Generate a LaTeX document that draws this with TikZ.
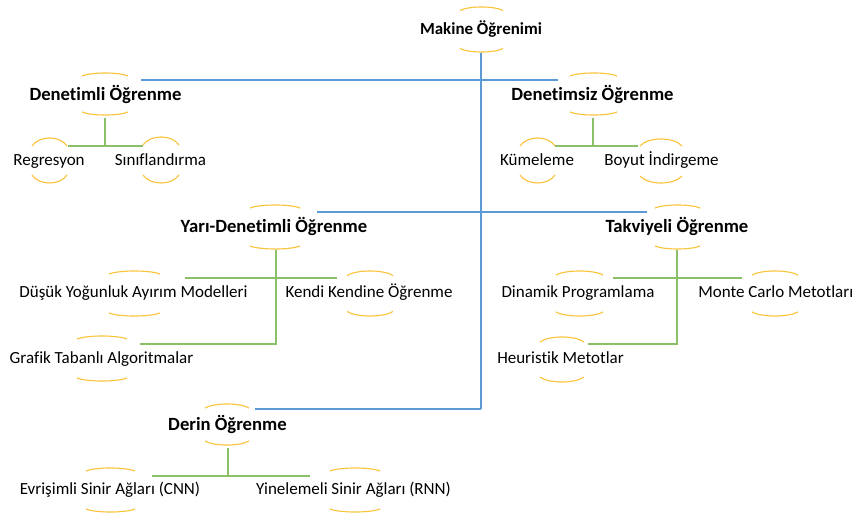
\documentclass[tikz,border=0pt]{standalone}
\usepackage{fontspec}
\setmainfont{Carlito}[Ligatures=NoCommon]
\definecolor{bluel}{RGB}{91,155,213}
\definecolor{greenl}{RGB}{140,192,104}
\definecolor{yell}{RGB}{250,196,60}
\newcommand\hoparcs[5]{%
  \draw[arcline] (#1,{#3+#5}) .. controls ({#1+0.2*(#2-#1)},{#3-#5/3}) and ({#2-0.2*(#2-#1)},{#3-#5/3}) .. (#2,{#3+#5});
  \draw[arcline] (#1,{#4-#5}) .. controls ({#1+0.2*(#2-#1)},{#4+#5/3}) and ({#2-0.2*(#2-#1)},{#4+#5/3}) .. (#2,{#4-#5});
}
\begin{document}
\begin{tikzpicture}[x=0.75pt,y=-0.75pt,
  rootn/.style={font=\fontsize{12.7}{14}\selectfont\bfseries, anchor=mid, inner sep=0pt, yshift=-1.9pt},
  main/.style={font=\fontsize{14}{16}\selectfont\bfseries, anchor=mid, inner sep=0pt, yshift=-1.9pt},
  sub/.style={font=\fontsize{12.75}{14}\selectfont, anchor=mid, inner sep=0pt, yshift=-1.9pt},
  blueline/.style={draw=bluel, line width=0.8pt},
  greenline/.style={draw=greenl, line width=0.9pt},
  arcline/.style={draw=yell, line width=0.85pt}]
\path[use as bounding box] (0,0) rectangle (852,516);

% nodes
\node[rootn] (root) at (481,29) {Makine Öğrenimi};
\node[main] (sup) at (105.5,95) {Denetimli Öğrenme};
\node[main] (unsup) at (592.5,95) {Denetimsiz Öğrenme};
\node[sub] (reg) at (49,160) {Regresyon};
\node[sub] (cls) at (160.5,160) {Sınıflandırma};
\node[sub] (kum) at (537,160) {Kümeleme};
\node[sub] (boy) at (661.5,160) {Boyut İndirgeme};
\node[main] (semi) at (274,227) {Yarı-Denetimli Öğrenme};
\node[main] (rl) at (677,227) {Takviyeli Öğrenme};
\node[sub] (dusuk) at (133.5,292) {Düşük Yoğunluk Ayırım Modelleri};
\node[sub] (kendi) at (369,292) {Kendi Kendine Öğrenme};
\node[sub] (grafik) at (101.5,358) {Grafik Tabanlı Algoritmalar};
\node[sub] (dinamik) at (578,292) {Dinamik Programlama};
\node[sub, anchor=mid west] (monte) at (698,292) {Monte Carlo Metotları};
\node[sub] (heur) at (560.5,358) {Heuristik Metotlar};
\node[main] (derin) at (227.5,425) {Derin Öğrenme};
\node[sub] (cnn) at (110,489) {Evrişimli Sinir Ağları (CNN)};
\node[sub] (rnn) at (353.5,489) {Yinelemeli Sinir Ağları (RNN)};

% arcs
\hoparcs{460}{503}{7}{52}{3.5}
\hoparcs{82}{128}{73}{115}{3}
\hoparcs{570}{617}{73}{115}{3}
\hoparcs{32}{67}{138}{183}{8}
\hoparcs{143}{179}{137}{183}{8}
\hoparcs{520}{555}{138}{183}{8}
\hoparcs{640}{682}{139}{183}{7}
\hoparcs{250}{300}{205}{249}{3}
\hoparcs{655}{700}{205}{249}{3}
\hoparcs{109}{160}{271}{316}{3}
\hoparcs{347}{393}{271}{316}{4.5}
\hoparcs{77}{127}{336}{381}{3}
\hoparcs{556}{603}{271}{316}{4}
\hoparcs{752}{798}{271}{316}{4}
\hoparcs{540}{584}{337}{382}{5}
\hoparcs{205}{249}{404}{445}{4}
\hoparcs{86}{135}{468}{512}{3}
\hoparcs{330}{380}{468}{512}{3}

% junction coordinates
\coordinate (rootb) at (481,53);
\coordinate (rootend) at (481,409);
\coordinate (supl) at (141,80);
\coordinate (unsupr) at (558,80);
\coordinate (semil) at (317,212);
\coordinate (rlr) at (647,212);
\coordinate (derinr) at (255,409);

\coordinate (supb) at (105,118);
\coordinate (supj) at (105,146);
\coordinate (regj) at (68,146);
\coordinate (clsj) at (143,146);

\coordinate (unsupb) at (593,118);
\coordinate (unsupj) at (593,146);
\coordinate (kumj) at (555,146);
\coordinate (boyj) at (638,146);

\coordinate (semib) at (276,250);
\coordinate (semij) at (276,278);
\coordinate (semie) at (276,344);
\coordinate (dusukj) at (185,278);
\coordinate (kendij) at (337,278);
\coordinate (grafikj) at (140,344);

\coordinate (rlb) at (677,250);
\coordinate (rlj) at (677,278);
\coordinate (rle) at (677,344);
\coordinate (dinamikj) at (613,278);
\coordinate (montej) at (742,278);
\coordinate (heurj) at (588,344);

\coordinate (derinb) at (228,448);
\coordinate (derinj) at (228,476);
\coordinate (cnnj) at (152,476);
\coordinate (rnnj) at (310,476);

% blue connectors
\draw[blueline] (rootb) -- (rootend);
\draw[blueline] (supl) -- (unsupr);
\draw[blueline] (semil) -- (rlr);
\draw[blueline] (derinr) -- (rootend);

% green connectors
\draw[greenline] (supb) -- (supj);
\draw[greenline] (regj) -- (clsj);
\draw[greenline] (unsupb) -- (unsupj);
\draw[greenline] (kumj) -- (boyj);
\draw[greenline] (semib) -- (semie) -- (grafikj);
\draw[greenline] (dusukj) -- (kendij);
\draw[greenline] (rlb) -- (rle) -- (heurj);
\draw[greenline] (dinamikj) -- (montej);
\draw[greenline] (derinb) -- (derinj);
\draw[greenline] (cnnj) -- (rnnj);
\end{tikzpicture}
\end{document}
